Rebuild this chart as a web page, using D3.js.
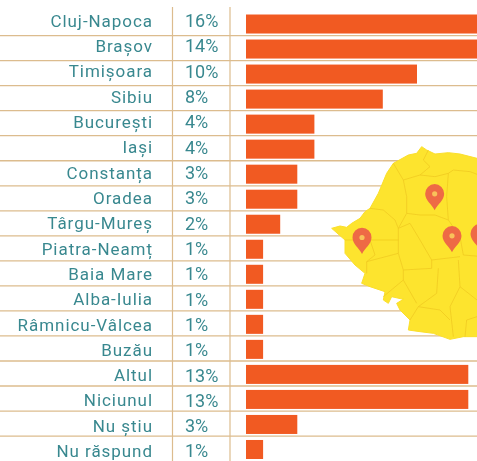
<!DOCTYPE html>
<html><head><meta charset="utf-8">
<script src="https://cdn.jsdelivr.net/npm/d3@7"></script>
<style>html,body{margin:0;padding:0;background:#fff;overflow:hidden}svg{display:block}</style>
</head><body><svg id="c" width="477" height="461"><defs><filter id="soft" x="0" y="0" width="100%" height="100%"><feGaussianBlur stdDeviation="0.45"/></filter></defs></svg>
<script>
const categories=["Cluj-Napoca","Brașov","Timișoara","Sibiu","București","Iași","Constanța","Oradea","Târgu-Mureș","Piatra-Neamț","Baia Mare","Alba-Iulia","Râmnicu-Vâlcea","Buzău","Altul","Niciunul","Nu știu","Nu răspund"];
const values=[16,14,10,8,4,4,3,3,2,1,1,1,1,1,13,13,3,1];
const mapOutline=[[305,20],[320,30],[345,42],[385,38],[420,42],[471,55],[490,60],[490,590],[471,590],[430,590],[390,598],[340,580],[300,575],[265,570],[270,540],[240,510],[230,490],[250,478],[215,470],[205,490],[190,480],[195,455],[150,440],[125,430],[135,400],[105,375],[75,340],[75,300],[35,265],[60,258],[80,262],[95,250],[120,235],[135,215],[150,205],[175,160],[200,100],[220,70],[265,45],[290,40]];
const mapBorders=[
[[220,70],[250,120],[260,170],[260,220],[235,265],[225,240],[190,210],[150,205]],
[[250,120],[300,105],[330,80],[310,60],[325,30]],
[[300,105],[345,110],[385,100],[400,90],[450,95],[490,110]],
[[385,100],[380,170],[385,240],[420,290],[430,345],[490,350]],
[[260,220],[300,225],[345,225],[385,240]],
[[235,265],[270,250],[300,300],[335,360],[335,385],[250,390]],
[[235,265],[235,340],[250,390],[250,420],[190,470]],
[[75,300],[150,300],[235,300]],
[[150,300],[165,345],[140,365],[140,400]],
[[140,365],[235,340]],
[[335,360],[420,350]],
[[355,385],[350,460],[295,500],[270,540]],
[[415,360],[420,440],[390,500],[400,590]],
[[295,500],[360,510],[390,540]],
[[250,420],[290,490]],
[[420,440],[471,480],[490,470]],
[[435,590],[440,540],[471,530]]];
const mapPins=[[344,172],[126,303],[396,298],[480,292]];

const svg=d3.select("#c");
const root=svg.append("g").attr("filter","url(#soft)");
const y=d3.scaleBand().domain(categories).range([11.5,462]).paddingInner(0.24).paddingOuter(0.12);
const x=d3.scaleLinear().domain([0,1]).range([246,263.1]);
const mx=d3.scaleLinear().domain([0,471]).range([320,477]);
const my=d3.scaleLinear().domain([0,630]).range([140,350]);
const lineGen=d3.line().x(d=>mx(d[0])).y(d=>my(d[1]));
const rowLine=d3.scaleLinear().domain([0,1]).range([35.6,60.63]);
const textY=d3.scaleLinear().domain([0,17]).range([20.5,451]);

root.append("rect").attr("width",477).attr("height",461).attr("fill","#fff");
root.append("g").selectAll("line").data(categories.slice(0,-1)).join("line")
 .attr("x1",0).attr("x2",477).attr("y1",(d,i)=>rowLine(i)).attr("y2",(d,i)=>rowLine(i))
 .attr("stroke","#dcbc8e").attr("stroke-width",1.3);
root.append("g").selectAll("line").data([172.5,230]).join("line")
 .attr("x1",d=>d).attr("x2",d=>d).attr("y1",7).attr("y2",461)
 .attr("stroke","#dcbc8e").attr("stroke-width",1.2);

root.append("path").attr("d",lineGen(mapOutline)+"Z").attr("fill","#fde42e").attr("stroke","#fbdf2b").attr("stroke-width",1);
root.append("g").selectAll("path").data(mapBorders).join("path").attr("d",d=>lineGen(d))
 .attr("fill","none").attr("stroke","#f0ca22").attr("stroke-width",0.8);
const pin=root.append("g").selectAll("g").data(mapPins).join("g")
 .attr("transform",d=>`translate(${mx(d[0])},${my(d[1])})`);
pin.append("path").attr("d","M0,13C-3,7 -9.5,3 -9.5,-3.5A9.5,9.8 0 1 1 9.5,-3.5C9.5,3 3,7 0,13Z").attr("fill","#ee6a45");
pin.append("circle").attr("cy",-3.5).attr("r",2.6).attr("fill","#f9c25a");

root.append("g").selectAll("rect").data(values).join("rect")
 .attr("x",x(0)).attr("y",(d,i)=>y(categories[i])).attr("width",d=>x(d)-x(0)).attr("height",y.bandwidth())
 .attr("fill","#f15a24");

const font="Roboto, sans-serif";
root.append("g").selectAll("text").data(categories).join("text")
 .attr("x",153).attr("y",(d,i)=>textY(i)).attr("dy","0.36em").attr("text-anchor","end")
 .attr("font-family",font).attr("font-size",17).attr("letter-spacing",0.95).attr("fill","#39888f").text(d=>d);
root.append("g").selectAll("text").data(values).join("text")
 .attr("x",185).attr("y",(d,i)=>textY(i)).attr("dy","0.36em")
 .attr("font-family",font).attr("font-size",18).attr("fill","#39888f").text(d=>d+"%");
</script></body></html>
